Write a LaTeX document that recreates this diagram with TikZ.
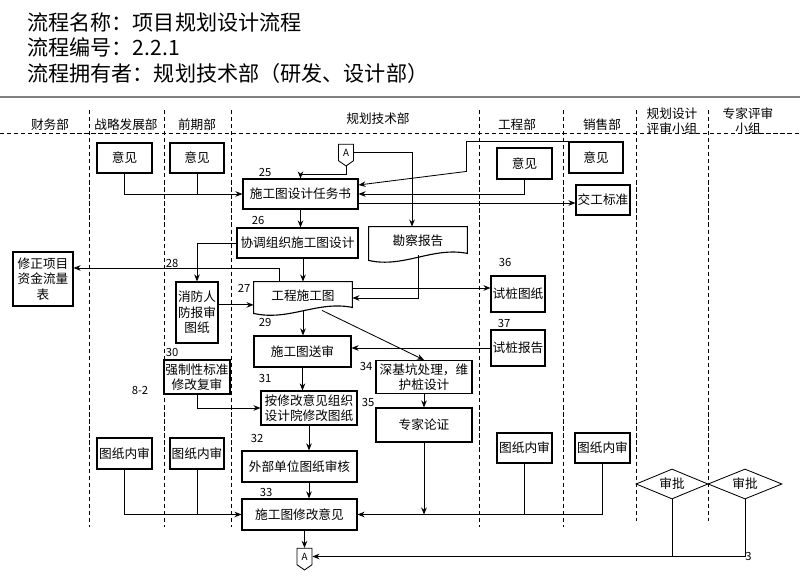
\documentclass[tikz,border=0pt]{standalone}
\usepackage{fontspec}
\setmainfont{Noto Sans CJK SC}
\usetikzlibrary{shapes.geometric,shapes.symbols,arrows.meta}
\tikzset{
    box/.style={draw,line width=.8pt,inner sep=1pt,align=center},
    wh/.style 2 args={minimum width=#1*0.025cm,minimum height=#2*0.025cm},
    num/.style={font=\fontsize{8}{9}\selectfont,inner sep=0pt},
    lane/.style={dash pattern=on 3pt off 2pt,line width=.7pt},
    conn/.style={draw,signal,signal to=south,signal from=nowhere,signal pointer angle=110,
        inner sep=.5pt,minimum width=.375cm,minimum height=.475cm,font=\fontsize{7}{8}\selectfont},
    spd/.style={draw,diamond,aspect=2.4,inner sep=0pt,minimum width=1.8cm,minimum height=.75cm}
}
\begin{document}
\begin{tikzpicture}[x=0.025cm,y=-0.025cm,>={Stealth[length=5pt,width=4pt]},line width=.6pt,font=\fontsize{9}{11}\selectfont]
    \useasboundingbox (0,0) rectangle (800,576);
    \node[anchor=west,inner sep=0pt,font=\fontsize{15}{18}\selectfont] (t1) at (27,22) {流程名称：项目规划设计流程};
    \node[anchor=west,inner sep=0pt,font=\fontsize{15}{18}\selectfont] (t2) at (27,47) {流程编号：2.2.1};
    \node[anchor=west,inner sep=0pt,font=\fontsize{15}{18}\selectfont] (t3) at (27,73) {流程拥有者：规划技术部（研发、设计部）};
    \draw[gray,line width=2pt] (0,97)--(800,97);
    %===========================================
    \foreach \n/\t/\x in {cw/财务部/50,zl/战略发展部/126,qq/前期部/197,gc/工程部/517,xs/销售部/602}
        \node (\n) at (\x,125) {\t};
    \node (gh) at (378,119) {规划技术部};
    \node[align=center] (ghps) at (672,121) {规划设计\\评审小组};
    \node[align=center] (zjps) at (748,121) {专家评审\\小组};
    \draw[lane] (0,133)--(800,133);
    \foreach \x/\b in {89/527,164/527,231/527,479/527,563/527,636/521,708/521}
        \draw[lane] (\x,110)--(\x,\b);
    %===========================================
    \node[box,wh={55}{30}] (yjZL) at (124.5,158) {意见};
    \node[box,wh={54}{30}] (yjQQ) at (197,158) {意见};
    \node[box,wh={55}{31}] (yjGC) at (524.5,163.5) {意见};
    \node[box,wh={54}{31}] (yjXS) at (596,157.5) {意见};
    \node[box,wh={54}{30}] (jgbz) at (603,200) {交工标准};
    \node[conn] (aTop) at (346,152.5) {A};
    \node[box,wh={115}{30}] (rws) at (300.5,194) {施工图设计任务书};
    \node[box,wh={121}{30}] (xtzz) at (297.5,243) {协调组织施工图设计};
    \node[inner sep=0pt,wh={98}{28}] (kcbg) at (418,241) {勘察报告};
    \node[box,wh={60}{54}] (xzxm) at (43,279) {修正项目\\资金流量\\表};
    \node[box,wh={42}{61}] (xfrf) at (197,312.5) {消防人\\防报审\\图纸};
    \node[inner sep=0pt,wh={98}{28}] (gcst) at (303,296) {工程施工图};
    \node[box,wh={97}{31}] (sgsh) at (302.5,351.5) {施工图送审};
    \node[box,wh={54}{36}] (sztz) at (518,294) {试桩图纸};
    \node[box,wh={54}{36}] (szbg) at (518,348) {试桩报告};
    \node[box,wh={96}{33}] (sjk) at (424,377) {深基坑处理，维\\护桩设计};
    \node[box,wh={96}{34}] (zjlz) at (424,425) {专家论证};
    \node[box,inner sep=.3pt,wh={66}{34}] (qzx) at (197,377) {强制性标准\\修改复审};
    \node[box,wh={96}{34}] (axg) at (309,408) {按修改意见组织\\设计院修改图纸};
    \node[box,wh={115}{31}] (wbdw) at (299.5,466.5) {外部单位图纸审核};
    \node[box,wh={115}{31}] (xgyj) at (299.5,514.5) {施工图修改意见};
    \node[box,wh={55}{31}] (nsZL) at (124.5,453.5) {图纸内审};
    \node[box,wh={54}{31}] (nsQQ) at (197,453.5) {图纸内审};
    \node[box,wh={55}{30}] (nsGC) at (524.5,448) {图纸内审};
    \node[box,wh={55}{30}] (nsXS) at (602.5,448) {图纸内审};
    \node[spd] (spGH) at (672,484) {审批};
    \node[spd,minimum width=1.85cm] (spZJ) at (745,484) {审批};
    \node[conn] (aBot) at (304.5,556.5) {A};
    \draw[line width=.8pt] (kcbg.north west)--(kcbg.north east)--([yshift=.05cm]kcbg.south east)
        .. controls +(-35,-7) and +(35,8) .. ([yshift=-.125cm]kcbg.south west)--cycle;
    \draw[line width=.8pt] (gcst.north west)--(gcst.north east)--([yshift=.075cm]gcst.south east)
        .. controls +(-35,-7) and +(35,8) .. ([yshift=-.075cm]gcst.south west)--cycle;
    \foreach \n/\x/\y in {25/265/172,26/258/220,27/244/288,28/172/263,29/265/322,30/172/352,31/265/378,
        32/257/438,33/266/492,34/366/366,35/368/402,36/505/262,37/504/323}
        \node[num] (n\n) at (\x,\y) {\n};
    \node[num] (n82) at (140,390) {8-2};
    %===========================================
    \draw[->] (yjZL.south) |- (rws.west);
    \draw (yjQQ.south)--(yjQQ.south |- rws.west);
    \draw[->] (aTop.south)--++(0,8) -| (rws.north);
    \draw[->] (aTop.east) -| ([xshift=-.15cm]kcbg.north);
    \draw[->] (yjXS.north west)--++(-102,0)--++(0,30)--([yshift=.225cm]rws.east);
    \draw[->] (yjGC.south) |- (rws.east);
    \draw[->] ([yshift=-.225cm]rws.east)--([yshift=-.225cm]rws.east -| jgbz.west);
    \draw[->] (rws.south)--(rws.south |- xtzz.north);
    \draw[->] (xtzz.west) -| (xfrf.north);
    \draw[->] (gcst.north |- xtzz.south)--(gcst.north);
    \draw[->] ([xshift=-.6cm]gcst.north) |- ([yshift=.275cm]xzxm.east);
    \draw[->] ([yshift=.19cm]xfrf.east)--([yshift=.19cm]xfrf.east -| gcst.west);
    \draw[->] (kcbg.south) |- ([yshift=-.05cm]gcst.east);
    \draw[->] ([yshift=.2cm]gcst.east)--([yshift=.2cm]gcst.east -| sztz.west);
    \draw[->] (gcst.south)--(gcst.south |- sgsh.north);
    \draw[->] ([xshift=.475cm]gcst.south)--(sjk.north);
    \draw[->] (szbg.west)--(szbg.west -| sgsh.east);
    \draw[->] (sgsh.south)--(sgsh.south |- axg.north);
    \draw[->] (qzx.south) |- (axg.west);
    \draw[->] (axg.south)--(axg.south |- wbdw.north);
    \draw[->] (axg.south |- wbdw.south)--(axg.south |- xgyj.north);
    \draw[->] (sjk)--(zjlz);
    \draw[->] (zjlz.south)--(zjlz.south |- xgyj.east);
    \draw[->] (nsXS.south) |- (xgyj.east);
    \draw (nsGC.south)--(nsGC.south |- xgyj.east);
    \draw[->] (nsZL.south) |- (xgyj.west);
    \draw (nsQQ.south)--(nsQQ.south |- xgyj.west);
    \draw[->] (xgyj.south -| aBot.north)--(aBot.north);
    \draw (spGH.south)--(spGH.south |- aBot.east);
    \draw[->] (spZJ.south) |- (aBot.east);
    \node[num,anchor=west] (n3) at (spZJ.south |- aBot.east) {3};
\end{tikzpicture}
\end{document}
